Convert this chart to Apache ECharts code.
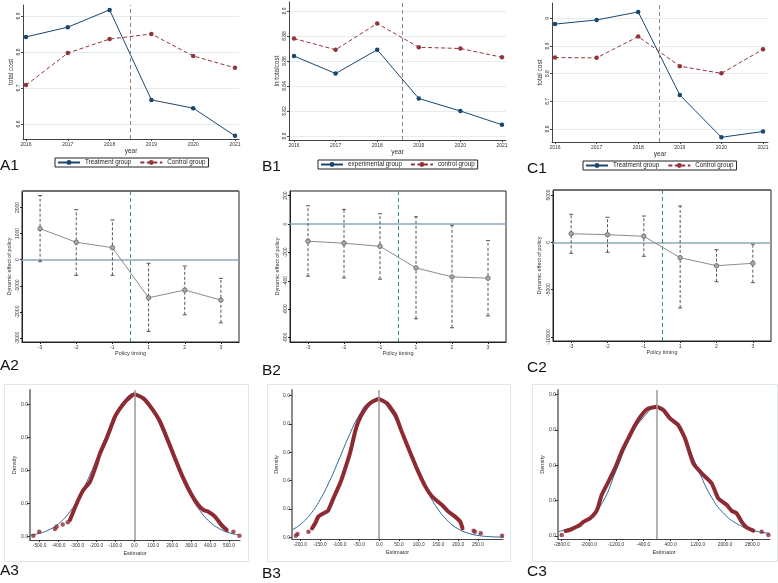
<!DOCTYPE html>
<html><head><meta charset="utf-8">
<script src="https://cdn.jsdelivr.net/npm/echarts@6/dist/echarts.min.js"></script>
<style>html,body{margin:0;padding:0;background:#fff}#c{width:778px;height:583px}</style>
</head><body><div id="c"></div><script>
// ---------- Row 1: group means by year ----------
const years = [2016, 2017, 2018, 2019, 2020, 2021];
const a1Treatment = [6.842, 6.869, 6.917, 6.667, 6.644, 6.567];
const a1Control   = [6.708, 6.797, 6.836, 6.850, 6.789, 6.756];
const b1Experimental = [8.864, 8.850, 8.869, 8.830, 8.820, 8.809];
const b1Control      = [8.878, 8.869, 8.890, 8.871, 8.870, 8.863];
const c1Treatment = [8.979, 8.994, 9.023, 8.723, 8.570, 8.591];
const c1Control   = [8.858, 8.857, 8.934, 8.827, 8.801, 8.888];
const a1YTicks = [6.6, 6.7, 6.8, 6.9];          const a1YLabels = ['6.6', '6.7', '6.8', '6.9'];
const b1YTicks = [8.8, 8.82, 8.84, 8.86, 8.88, 8.9]; const b1YLabels = ['8.8', '8.82', '8.84', '8.86', '8.88', '8.9'];
const c1YTicks = [8.6, 8.7, 8.8, 8.9, 9.0];     const c1YLabels = ['8.6', '8.7', '8.8', '8.9', '9'];
const policyLineA1 = 2018.5, policyLineB1 = 2018.6, policyLineC1 = 2018.5;

// ---------- Row 2: event-study coefficients ----------
const timing = ['-3', '-2', '-1', '1', '2', '3'];
const a2Coef = [1188, 667, 460, -1456, -1161, -1544];
const a2Low  = [-77, -598, -598, -2743, -2107, -2414];
const a2High = [2452, 1916, 1521, -138, -241, -713];
const b2Coef = [-121, -135, -157, -309, -372, -381];
const b2Low  = [-367, -379, -388, -667, -730, -646];
const b2High = [128, 103, 72, 51, -9, -117];
const c2Coef = [908, 803, 634, -1626, -2471, -2218];
const c2Low  = [-1162, -1056, -1478, -6938, -4161, -4266];
const c2High = [2957, 2640, 2777, 3833, -781, -211];
const a2YTicks = [-3000, -2000, -1000, 0, 1000, 2000];
const b2YTicks = [-800, -600, -400, -200, 0, 200];
const c2YTicks = [-10000, -5000, 0, 5000];

// ---------- Row 3: placebo densities ----------
const a3CurveX = [-550,-500,-450,-400,-350,-300,-250,-200,-150,-100,-50,0,50,100,150,200,250,300,350,400,450,500,550];
const a3CurveY = [0.000024,0.000052,0.000105,0.000197,0.000342,0.000554,0.000834,0.001167,0.001518,0.001836,0.002064,0.002156,0.002094,0.001891,0.001587,0.001238,0.000897,0.000605,0.000379,0.000221,0.000120,0.000060,0.000028];
const a3KdeX = [-340,-322,-296,-269,-234,-207,-181,-146,-102,-75,-40,0,48,92,136,180,215,259,303,338,365,391,426,461,488];
const a3KdeY = [0.000252,0.000378,0.000554,0.000705,0.000831,0.001032,0.001259,0.001485,0.001813,0.001938,0.002064,0.00215,0.00209,0.001938,0.001737,0.001435,0.001183,0.000881,0.000629,0.000478,0.000403,0.000378,0.000302,0.000176,0.000101];
const a3DotX = [-533,-502,-419,-410,-378,-351,523,555];
const a3DotY = [0.000015,0.000076,0.000116,0.00015,0.000186,0.000217,0.000076,0.000015];
const a3XTicks = [-500,-400,-300,-200,-100,0,100,200,300,400,500];
const a3YTicks = [0, 0.0005, 0.001, 0.0015, 0.002];

const b3CurveX = [-220,-200,-175,-150,-125,-100,-75,-50,-25,0,25,50,75,100,125,150,175,200,225,250,280,315];
const b3CurveY = [0.000266,0.000449,0.000801,0.001319,0.002004,0.002808,0.00363,0.004328,0.00476,0.00483,0.00452,0.003903,0.003109,0.002284,0.001548,0.000968,0.000558,0.000297,0.000146,0.000066,0.000023,0.000006];
const b3KdeX = [-170,-162,-154,-141,-130,-116,-99,-86,-73,-61,-53,-40,-23,-2,19.5,41,57,74,95,117,134,159,175,192,205,211];
const b3KdeY = [0.000318,0.000494,0.00073,0.000847,0.000929,0.001376,0.001906,0.002435,0.00302,0.00373,0.00408,0.004435,0.00473,0.004882,0.00473,0.004318,0.00373,0.003141,0.002435,0.001788,0.001435,0.001141,0.000906,0.00073,0.000553,0.000318];
const b3DotX = [-211,-207,-179,239,242,257,311];
const b3DotY = [0.000059,0.000118,0.0002,0.000235,0.0002,0.000141,0.000059];
const b3XTicks = [-200,-150,-100,-50,0,50,100,150,200,250];
const b3YTicks = [0, 0.001, 0.002, 0.003, 0.004, 0.005];

const c3CurveX = [-2900,-2800,-2400,-2000,-1600,-1200,-800,-400,0,400,800,1200,1600,2000,2400,2800,3300];
const c3CurveY = [0.000012,0.000015,0.000028,0.00005,0.000095,0.000185,0.000275,0.000335,0.000362,0.000335,0.000275,0.00019,0.00011,0.00006,0.000032,0.000016,0.000008];
const c3KdeX = [-2683,-2555,-2409,-2262,-2164,-1968,-1821,-1743,-1625,-1429,-1234,-1038,-842,-646,-450,-254,-10,186,382,627,822,1068,1313,1606,1802,2047,2194,2341,2488,2635,2830];
const c3KdeY = [0.000014,0.000017,0.000024,0.000031,0.00004,0.00005,0.000064,0.000078,0.000116,0.000153,0.000191,0.000238,0.000276,0.000313,0.000342,0.00036,0.000365,0.000356,0.000332,0.000313,0.000276,0.000205,0.000177,0.000149,0.000106,0.000088,0.000071,0.000064,0.00004,0.000024,0.000015];
const c3DotX = [-2800, 3076, 3272];
const c3DotY = [0.000003, 0.000012, 0.000003];
const c3XTicks = [-2800,-2000,-1200,-400,400,1200,2000,2800];
const c3YTicks = [0, 0.0001, 0.0002, 0.0003, 0.0004];

// ---------- styling helpers ----------
const FONT = '"Liberation Sans", Arial, Helvetica, sans-serif';
const NAVY = '#1a476f', MAROON = '#90353b';
const zip = (xs, ys) => xs.map((x, i) => [x, ys[i]]);
const pick = (ticks, labels) => v => { const i = ticks.findIndex(t => Math.abs(t - v) < 1e-9); return i >= 0 ? labels[i] : ''; };
const txt = (size, extra) => Object.assign({ fontSize: size, color: '#333', fontFamily: FONT }, extra || {});

function r1X(gi, min, max) {
  return { type: 'value', gridIndex: gi, min, max,
    axisLine: { show: true, onZero: false, lineStyle: { color: '#444', width: 1 } },
    axisTick: { show: true, length: 2, customValues: years, lineStyle: { color: '#444' } },
    axisLabel: txt(5, { customValues: years, margin: 3, formatter: v => String(v) }),
    splitLine: { show: false },
    name: 'year', nameLocation: 'middle', nameGap: 8, nameTextStyle: txt(6.5) };
}
function r1Y(gi, min, max, ticks, labels, name) {
  return { type: 'value', gridIndex: gi, min, max,
    axisLine: { show: true, onZero: false, lineStyle: { color: '#444', width: 1 } },
    axisTick: { show: true, length: 2, customValues: ticks, lineStyle: { color: '#444' } },
    axisLabel: txt(5, { customValues: ticks, rotate: 90, margin: 2, formatter: pick(ticks, labels) }),
    splitLine: { show: true, lineStyle: { color: '#e2edf0', width: 1 } },
    name, nameLocation: 'middle', nameGap: 8, nameRotate: 90, nameTextStyle: txt(6.5) };
}
function r2X(gi) {
  const idx = timing.map((t, i) => i);
  return { type: 'value', gridIndex: gi, min: -0.5, max: 5.5,
    axisLine: { show: true, onZero: false, lineStyle: { color: '#222', width: 1 } },
    axisTick: { show: true, length: 2, customValues: idx, lineStyle: { color: '#222' } },
    axisLabel: txt(5, { customValues: idx, margin: 3, formatter: v => timing[Math.round(v)] }),
    splitLine: { show: false },
    name: 'Policy timing', nameLocation: 'middle', nameGap: 8, nameTextStyle: txt(5.5) };
}
function r2Y(gi, min, max, ticks, gap) {
  return { type: 'value', gridIndex: gi, min, max,
    axisLine: { show: true, onZero: false, lineStyle: { color: '#222', width: 1 } },
    axisTick: { show: true, length: 2, customValues: ticks, lineStyle: { color: '#222' } },
    axisLabel: txt(5, { customValues: ticks, rotate: 90, margin: 2, formatter: v => String(v) }),
    splitLine: { show: false },
    name: 'Dynamic effect of policy', nameLocation: 'middle', nameGap: gap, nameRotate: 90, nameTextStyle: txt(5.5) };
}
function r3X(gi, min, max, ticks) {
  return { type: 'value', gridIndex: gi, min, max,
    axisLine: { show: true, onZero: false, lineStyle: { color: '#444', width: 1 } },
    axisTick: { show: true, length: 2, customValues: ticks, lineStyle: { color: '#333' } },
    axisLabel: txt(4.8, { customValues: ticks, margin: 3, formatter: v => v.toFixed(1) }),
    splitLine: { show: false },
    name: 'Estimator', nameLocation: 'middle', nameGap: 10, nameTextStyle: txt(5.5) };
}
function r3Y(gi, min, max, ticks) {
  return { type: 'value', gridIndex: gi, min, max,
    axisLine: { show: true, onZero: false, lineStyle: { color: '#8a8a8a', width: 2 } },
    axisTick: { show: true, length: 3, customValues: ticks, lineStyle: { color: '#333' } },
    axisLabel: txt(5, { customValues: ticks, margin: 2, formatter: v => v.toFixed(1) }),
    splitLine: { show: false },
    name: 'Density', nameLocation: 'middle', nameGap: 13, nameRotate: 90, nameTextStyle: txt(5.5) };
}

function vline(x, color, type, width) {
  return { xAxis: x, lineStyle: { color, type, width } };
}
function r1Series(gi, name1, d1, name2, d2, policy) {
  return [
    { type: 'line', name: name1, xAxisIndex: gi, yAxisIndex: gi, data: zip(years, d1), color: NAVY,
      symbol: 'circle', symbolSize: 4.5, lineStyle: { width: 1, color: NAVY }, itemStyle: { color: NAVY }, z: 3,
      markLine: { silent: true, symbol: 'none', label: { show: false }, animation: false,
        data: [vline(policy, '#888', [4, 3], 1)] } },
    { type: 'line', name: name2, xAxisIndex: gi, yAxisIndex: gi, data: zip(years, d2), color: MAROON,
      symbol: 'circle', symbolSize: 4.5, lineStyle: { width: 1, type: [4, 2.5], color: MAROON }, itemStyle: { color: MAROON }, z: 3 }
  ];
}
function errRender(params, api) {
  const x = api.value(0), lo = api.value(1), hi = api.value(2);
  const a = api.coord([x, lo]), b = api.coord([x, hi]);
  const c = 2, st = { stroke: '#555', lineWidth: 1 };
  return { type: 'group', children: [
    { type: 'line', shape: { x1: a[0], y1: a[1], x2: b[0], y2: b[1] }, style: { stroke: '#555', lineWidth: 1, lineDash: [3, 2] } },
    { type: 'line', shape: { x1: a[0] - c, y1: a[1], x2: a[0] + c, y2: a[1] }, style: st },
    { type: 'line', shape: { x1: b[0] - c, y1: b[1], x2: b[0] + c, y2: b[1] }, style: st }
  ] };
}
function r2Series(gi, coef, lo, hi) {
  return [
    { type: 'custom', xAxisIndex: gi, yAxisIndex: gi, renderItem: errRender, encode: { x: 0, y: [1, 2] },
      data: timing.map((t, i) => [i, lo[i], hi[i]]), z: 2 },
    { type: 'line', xAxisIndex: gi, yAxisIndex: gi, data: timing.map((t, i) => [i, coef[i]]),
      symbol: 'circle', symbolSize: 4.5, lineStyle: { color: '#8c8c8c', width: 1 },
      itemStyle: { color: '#a9a9a9', borderColor: '#666', borderWidth: 0.8 }, z: 3,
      markLine: { silent: true, symbol: 'none', label: { show: false }, animation: false, z: 1,
        data: [ { yAxis: 0, lineStyle: { color: '#8ea7b8', type: 'solid', width: 1.5 } },
                vline(2.5, '#3f8b7b', [4, 3], 1) ] } }
  ];
}
function r3Series(gi, cx, cy, kx, ky, dx, dy) {
  const RED = '#8d2a32';
  return [
    { type: 'line', xAxisIndex: gi, yAxisIndex: gi, data: zip(cx, cy), smooth: 0.5, showSymbol: false,
      lineStyle: { color: '#2d6896', width: 1 }, z: 2,
      markLine: { silent: true, symbol: 'none', label: { show: false }, animation: false,
        data: [vline(0, '#9a9a9a', 'solid', 1.5)] } },
    { type: 'line', xAxisIndex: gi, yAxisIndex: gi, data: zip(kx, ky), smooth: 0.15, showSymbol: false,
      lineStyle: { color: RED, width: 4, cap: 'round', join: 'round' }, z: 3 },
    { type: 'scatter', xAxisIndex: gi, yAxisIndex: gi, data: zip(dx, dy), symbolSize: 4.5,
      itemStyle: { color: RED }, z: 3 }
  ];
}
function legendBox(left, top, names) {
  return { left, top, data: names, orient: 'horizontal', itemWidth: 22, itemHeight: 6, itemGap: 8,
    padding: [1.5, 3, 1.5, 2], borderColor: '#222', borderWidth: 1, backgroundColor: '#fff',
    selectedMode: false, textStyle: txt(6.3, { color: '#222' }) };
}
function label(text, x, y) {
  return { type: 'text', x, y, style: { text, fontSize: 15.5, fontFamily: FONT, fill: '#111', verticalAlign: 'middle' } };
}
function lightBox(x, y, w, h) {
  return { type: 'rect', shape: { x, y, width: w, height: h }, style: { fill: 'none', stroke: '#dfe7ea', lineWidth: 1 }, z: -10 };
}
function topEdge(x1, x2, y) {
  return { type: 'line', shape: { x1, y1: y, x2, y2: y }, style: { stroke: '#6f6f6f', lineWidth: 2 }, z: 50 };
}

const option = {
  animation: false,
  backgroundColor: '#fff',
  grid: [
    { left: 23, top: 5, width: 216, height: 134 },
    { left: 289, top: 2, width: 217, height: 138 },
    { left: 552, top: 3, width: 216, height: 139 },
    { left: 22, top: 191, width: 217, height: 151, show: true, borderColor: '#222', borderWidth: 1 },
    { left: 290, top: 191, width: 216, height: 151, show: true, borderColor: '#222', borderWidth: 1 },
    { left: 553, top: 190, width: 218, height: 151, show: true, borderColor: '#222', borderWidth: 1 },
    { left: 30, top: 390, width: 210, height: 150 },
    { left: 292, top: 390, width: 211, height: 149 },
    { left: 558, top: 390, width: 212, height: 149 }
  ],
  xAxis: [
    r1X(0, 2015.928, 2021.096), r1X(1, 2015.88, 2021.096), r1X(2, 2015.928, 2021.12),
    r2X(3), r2X(4), r2X(5),
    r3X(6, -550.7, 558, a3XTicks), r3X(7, -220.8, 313.4, b3XTicks), r3X(8, -2908, 3320, c3XTicks)
  ],
  yAxis: [
    r1Y(0, 6.5583, 6.9306, a1YTicks, a1YLabels, 'total cost'),
    r1Y(1, 8.7968, 8.9072, b1YTicks, b1YLabels, 'ln totalcost'),
    r1Y(2, 8.553, 9.0553, c1YTicks, c1YLabels, 'total cost'),
    r2Y(3, -3148, 2628, a2YTicks, 10), r2Y(4, -830, 232, b2YTicks, 10), r2Y(5, -10426, 5525, c2YTicks, 11),
    r3Y(6, -0.0000498, 0.002216, a3YTicks), r3Y(7, -0.00006, 0.0051994, b3YTicks), r3Y(8, -0.0000085, 0.0004124, c3YTicks)
  ],
  legend: [
    legendBox(55, 158, ['Treatment group', 'Control group']),
    legendBox(318, 160, ['experimental group', 'control group']),
    legendBox(583, 161, ['Treatment group', 'Control group'])
  ],
  series: [].concat(
    r1Series(0, 'Treatment group', a1Treatment, 'Control group', a1Control, policyLineA1),
    r1Series(1, 'experimental group', b1Experimental, 'control group', b1Control, policyLineB1),
    r1Series(2, 'Treatment group', c1Treatment, 'Control group', c1Control, policyLineC1),
    r2Series(3, a2Coef, a2Low, a2High),
    r2Series(4, b2Coef, b2Low, b2High),
    r2Series(5, c2Coef, c2Low, c2High),
    r3Series(6, a3CurveX, a3CurveY, a3KdeX, a3KdeY, a3DotX, a3DotY),
    r3Series(7, b3CurveX, b3CurveY, b3KdeX, b3KdeY, b3DotX, b3DotY),
    r3Series(8, c3CurveX, c3CurveY, c3KdeX, c3KdeY, c3DotX, c3DotY)
  ),
  graphic: [
    lightBox(4.5, 384.5, 244, 177), lightBox(267.5, 384.5, 243, 177), lightBox(532.5, 384.5, 245, 177),
    topEdge(22, 239, 191), topEdge(553, 771, 190),
    label('A1', 0, 166), label('B1', 262, 167), label('C1', 527, 168.5),
    label('A2', 0, 366), label('B2', 262, 371), label('C2', 527, 367.5),
    label('A3', 0, 570.5), label('B3', 262, 573.5), label('C3', 527, 571.5)
  ]
};
const chart = echarts.init(document.getElementById('c'), null, { renderer: 'canvas' });
chart.setOption(option);
</script></body></html>
